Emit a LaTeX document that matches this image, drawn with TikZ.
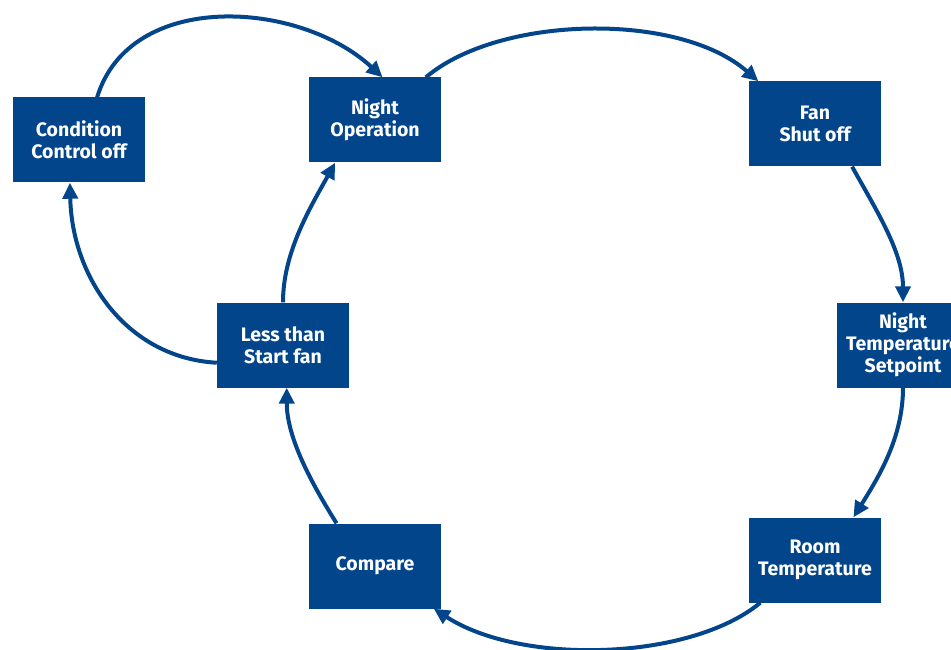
\documentclass[tikz,border=0pt]{standalone}
\usepackage{fontspec}
\setsansfont{Fira Sans}
\usetikzlibrary{arrows.meta}
\definecolor{nightblue}{RGB}{2,69,139}
\tikzset{
	stepnode/.style = {
		align=center,
		inner sep=0pt,
		text centered,
		font=\sffamily\bfseries\fontsize{19.5}{22}\selectfont,
		rectangle,
		text=white,
		fill=nightblue,
		minimum width=132pt,
		minimum height=85pt
	},
	loop_edge/.style = {
		draw=nightblue,
		line width=4pt
	},
}
\begin{document}
\begin{tikzpicture}[x=1pt,y=-1pt,->,>={Triangle[length=16pt,width=15pt]}]
\useasboundingbox (0,0) rectangle (951,650);
% the steps
\node [stepnode] (cond) at (79,140) {Condition\\Control off};
\node [stepnode] (nightop) at (375,120) {Night\\Operation};
\node [stepnode] (fan) at (815,124) {Fan\\Shut off};
\node [stepnode] (setpoint) at (903,345) {Night\\Temperature\\Setpoint};
\node [stepnode] (room) at (815,560) {Room\\Temperature};
\node [stepnode] (compare) at (375,566) {Compare};
\node [stepnode] (less) at (283,345) {Less than\\Start fan};
% the loops
\draw [loop_edge] (less.195) .. controls +(-90,-5) and +(2,95) .. (cond.258);
\draw [loop_edge] (cond.67) .. controls +(33,-108) and +(-83,-77) .. (nightop.80);
\draw [loop_edge] (nightop.40) .. controls +(73,-62) and +(-80,-70) .. (fan.143);
\draw [loop_edge] (fan.311) .. controls +(25,45) and +(0,-50) .. (setpoint.north);
\draw [loop_edge] (setpoint.south) .. controls +(0,50) and +(25,-40) .. (room.48);
\draw [loop_edge] (room.218) .. controls +(-70,58) and +(88,57) .. (compare.324);
\draw [loop_edge] (compare.132) .. controls +(-25,-40) and +(0,50) .. (less.275);
\draw [loop_edge] (less.north) .. controls +(0,-50) and +(-25,45) .. (nightop.227);
\end{tikzpicture}
\end{document}
